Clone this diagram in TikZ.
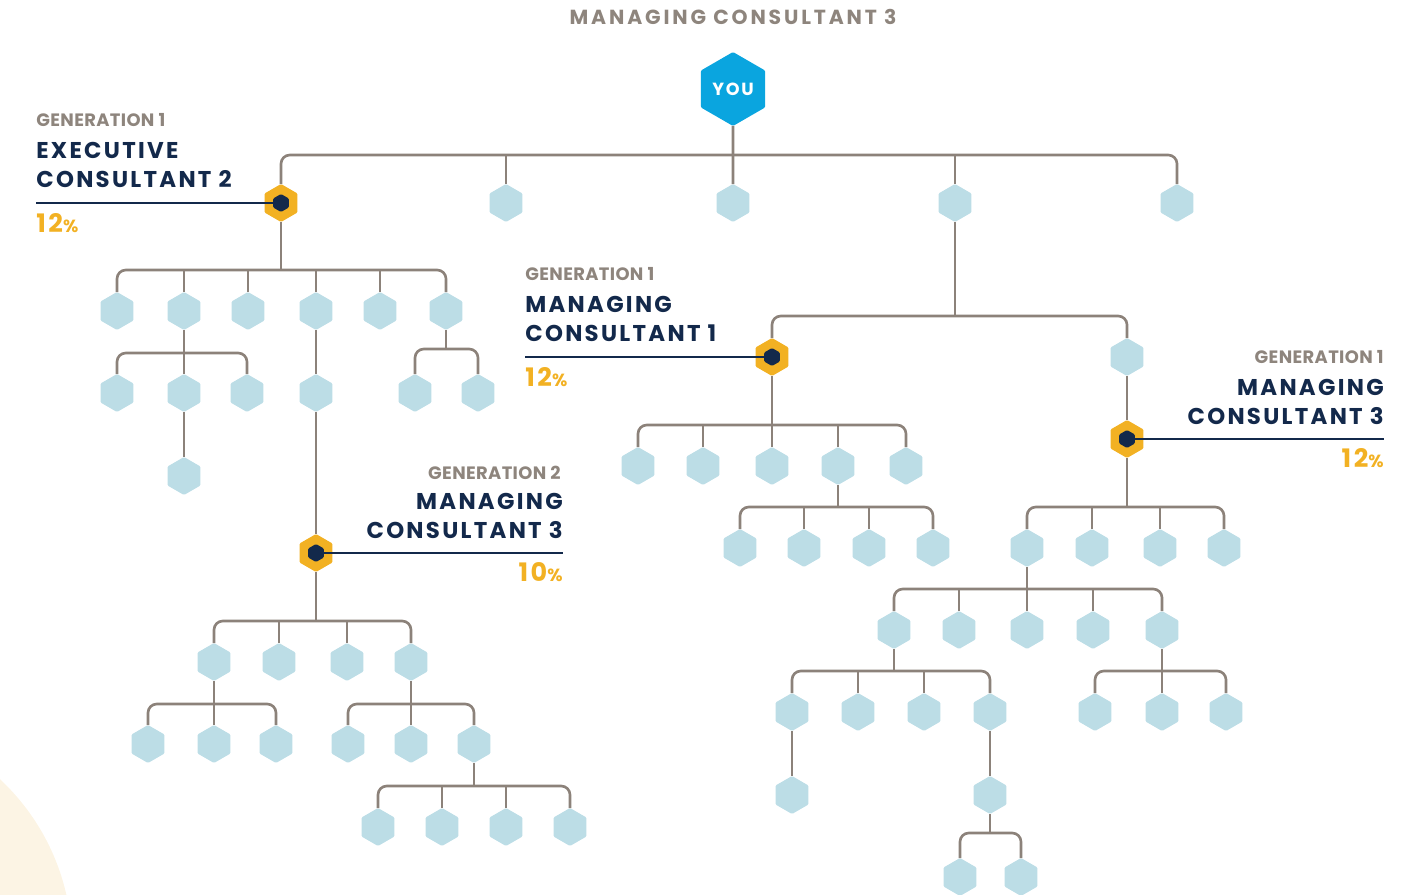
\documentclass[tikz,border=0pt]{standalone}
\usepackage{fontspec}
\setmainfont{Poppins}
\newfontfamily\genfont{Poppins}[LetterSpace=2]
\newfontfamily\rolefont{Poppins}[LetterSpace=10]
\newfontfamily\titlefont{Poppins}[LetterSpace=14]
\usetikzlibrary{shapes.geometric}

\definecolor{hexblue}{HTML}{BCDDE6}
\definecolor{youblue}{HTML}{0AA5DF}
\definecolor{gold}{HTML}{F2B123}
\definecolor{navy}{HTML}{13294B}
\definecolor{linegrey}{HTML}{8C827A}
\definecolor{textgrey}{HTML}{8E857D}
\definecolor{beige}{HTML}{FCF4E4}

\begin{document}
\begin{tikzpicture}[
  hex/.style={regular polygon,regular polygon sides=6,shape border rotate=30,
    minimum size=0.76cm,inner sep=0pt,outer sep=0pt,fill=hexblue,rounded corners=0.6pt},
  rank/.style={hex,fill=gold},
  core/.style={hex,fill=navy,minimum size=0.36cm},
  you/.style={hex,fill=youblue,minimum size=1.48cm,text=white,
    font=\rolefont\bfseries\fontsize{10}{11}\selectfont},
  link/.style={draw=linegrey,line width=1.5pt},
  bus/.style={link,rounded corners=5pt},
  tie/.style={draw=navy,line width=1.4pt},
  gen/.style={text=textgrey,inner sep=0pt,font=\genfont\bfseries\fontsize{10.2}{11}\selectfont},
  role/.style={text=navy,inner sep=0pt,font=\rolefont\bfseries\fontsize{13}{14}\selectfont},
  pct/.style={text=gold,inner sep=0pt,font=\rolefont\bfseries\fontsize{14.5}{15}\selectfont},
]
\begin{scope}[x=0.02cm,y=-0.02cm]
\useasboundingbox (0,0) rectangle (1409,895);

\begin{scope}
\clip (0,0) rectangle (1409,895);
\fill[beige] (-155,945) circle (4.54cm);
\end{scope}

\node[text=textgrey,inner sep=0pt,anchor=base,
  font=\titlefont\bfseries\fontsize{11.6}{13}\selectfont] (title) at (733,25)
  {MANAGING CONSULTANT 3};

% top level
\node[you] (you) at (733,89) {YOU};
\node[rank] (ec2) at (281,203) {};
\node[hex]  (t2)  at (506,203) {};
\node[hex]  (t3)  at (733,203) {};
\node[hex]  (t4)  at (955,203) {};
\node[hex]  (t5)  at (1177,203) {};
\coordinate (topbar) at (733,155);

% executive consultant 2
\node[hex] (a1) at (117,311) {};
\node[hex] (a2) at (184,311) {};
\node[hex] (a3) at (248,311) {};
\node[hex] (a4) at (316,311) {};
\node[hex] (a5) at (380,311) {};
\node[hex] (a6) at (446,311) {};
\coordinate (ec2bar) at (281,270);
\node[hex] (a21)  at (117,393) {};
\node[hex] (a22)  at (184,393) {};
\node[hex] (a23)  at (247,393) {};
\node[hex] (a221) at (184,476) {};
\coordinate (a2bar) at (184,353);
\node[hex] (a41) at (316,393) {};
\node[hex] (a61) at (415,393) {};
\node[hex] (a62) at (478,393) {};
\coordinate (a6bar) at (446,349);

% managing consultant 3, generation 2
\node[rank] (mc3b) at (316,553) {};
\node[hex] (b1) at (214,662) {};
\node[hex] (b2) at (279,662) {};
\node[hex] (b3) at (347,662) {};
\node[hex] (b4) at (411,662) {};
\coordinate (mc3bbar) at (316,621);
\node[hex] (b11) at (148,744) {};
\node[hex] (b12) at (214,744) {};
\node[hex] (b13) at (276,744) {};
\coordinate (b1bar) at (214,704);
\node[hex] (b41) at (348,744) {};
\node[hex] (b42) at (411,744) {};
\node[hex] (b43) at (474,744) {};
\coordinate (b4bar) at (411,704);
\node[hex] (b431) at (378,827) {};
\node[hex] (b432) at (442,827) {};
\node[hex] (b433) at (506,827) {};
\node[hex] (b434) at (570,827) {};
\coordinate (b43bar) at (474,786);

% right branch
\node[rank] (mc1)  at (772,357) {};
\node[hex]  (c2)   at (1127,357) {};
\node[rank] (mc3a) at (1127,439) {};
\coordinate (t4bar) at (955,316);

% managing consultant 1
\node[hex] (m1) at (638,466) {};
\node[hex] (m2) at (703,466) {};
\node[hex] (m3) at (772,466) {};
\node[hex] (m4) at (838,466) {};
\node[hex] (m5) at (906,466) {};
\coordinate (mc1bar) at (772,425);
\node[hex] (m41) at (740,548) {};
\node[hex] (m42) at (804,548) {};
\node[hex] (m43) at (869,548) {};
\node[hex] (m44) at (933,548) {};
\coordinate (m4bar) at (838,507);

% managing consultant 3, generation 1
\node[hex] (r1) at (1027,548) {};
\node[hex] (r2) at (1092,548) {};
\node[hex] (r3) at (1160,548) {};
\node[hex] (r4) at (1224,548) {};
\coordinate (mc3abar) at (1127,507);
\node[hex] (r11) at (894,630) {};
\node[hex] (r12) at (959,630) {};
\node[hex] (r13) at (1027,630) {};
\node[hex] (r14) at (1093,630) {};
\node[hex] (r15) at (1162,630) {};
\coordinate (r1bar) at (1027,589);
\node[hex] (r111) at (792,712) {};
\node[hex] (r112) at (858,712) {};
\node[hex] (r113) at (924,712) {};
\node[hex] (r114) at (990,712) {};
\coordinate (r11bar) at (894,671);
\node[hex] (r1111) at (792,795) {};
\node[hex] (r1141) at (990,795) {};
\node[hex] (r11411) at (960,877) {};
\node[hex] (r11412) at (1021,877) {};
\coordinate (r1141bar) at (990,833);
\node[hex] (r151) at (1095,712) {};
\node[hex] (r152) at (1162,712) {};
\node[hex] (r153) at (1226,712) {};
\coordinate (r15bar) at (1162,671);

% connectors
\draw[bus] (ec2) |- (topbar) -| (t5);
\draw[link] (you) -- (t3);
\foreach \n in {t2,t4} \draw[link] (\n) -- (\n |- topbar);

\draw[bus] (a1) |- (ec2bar) -| (a6);
\draw[link] (ec2) -- (ec2bar);
\foreach \n in {a2,a3,a4,a5} \draw[link] (\n) -- (\n |- ec2bar);
\draw[bus] (a21) |- (a2bar) -| (a23);
\draw[link] (a2) -- (a22);
\draw[link] (a22) -- (a221);
\draw[link] (a4) -- (a41);
\draw[link] (a41) -- (mc3b);
\draw[bus] (a61) |- (a6bar) -| (a62);
\draw[link] (a6) -- (a6bar);

\draw[bus] (b1) |- (mc3bbar) -| (b4);
\draw[link] (mc3b) -- (mc3bbar);
\foreach \n in {b2,b3} \draw[link] (\n) -- (\n |- mc3bbar);
\draw[bus] (b11) |- (b1bar) -| (b13);
\draw[link] (b1) -- (b12);
\draw[bus] (b41) |- (b4bar) -| (b43);
\draw[link] (b4) -- (b42);
\draw[bus] (b431) |- (b43bar) -| (b434);
\draw[link] (b43) -- (b43bar);
\foreach \n in {b432,b433} \draw[link] (\n) -- (\n |- b43bar);

\draw[bus] (mc1) |- (t4bar) -| (c2);
\draw[link] (t4) -- (t4bar);
\draw[link] (c2) -- (mc3a);

\draw[bus] (m1) |- (mc1bar) -| (m5);
\draw[link] (mc1) -- (m3);
\foreach \n in {m2,m4} \draw[link] (\n) -- (\n |- mc1bar);
\draw[bus] (m41) |- (m4bar) -| (m44);
\draw[link] (m4) -- (m4bar);
\foreach \n in {m42,m43} \draw[link] (\n) -- (\n |- m4bar);

\draw[bus] (r1) |- (mc3abar) -| (r4);
\draw[link] (mc3a) -- (mc3abar);
\foreach \n in {r2,r3} \draw[link] (\n) -- (\n |- mc3abar);
\draw[bus] (r11) |- (r1bar) -| (r15);
\draw[link] (r1) -- (r13);
\foreach \n in {r12,r14} \draw[link] (\n) -- (\n |- r1bar);
\draw[bus] (r111) |- (r11bar) -| (r114);
\draw[link] (r11) -- (r11bar);
\foreach \n in {r112,r113} \draw[link] (\n) -- (\n |- r11bar);
\draw[link] (r111) -- (r1111);
\draw[link] (r114) -- (r1141);
\draw[bus] (r11411) |- (r1141bar) -| (r11412);
\draw[link] (r1141) -- (r1141bar);
\draw[bus] (r151) |- (r15bar) -| (r153);
\draw[link] (r15) -- (r152);

% labels
\node[core] (ec2core)  at (ec2) {};
\node[core] (mc1core)  at (mc1) {};
\node[core] (mc3acore) at (mc3a) {};
\node[core] (mc3bcore) at (mc3b) {};

\coordinate (ec2tie) at (36,203);
\draw[tie] (ec2tie) -- (ec2core);
\node[gen,anchor=base west]  (ec2gen)  at (36,126.7) {GENERATION 1};
\node[role,anchor=base west] (ec2role) at (36,158.3) {EXECUTIVE};
\node[role,anchor=base west] (ec2rank) at (36,187.3) {CONSULTANT 2};
\node[pct,anchor=base west]  (ec2pct)  at (36,232.3)
  {12{\fontsize{10}{11}\selectfont\%}};

\coordinate (mc1tie) at (525,357);
\draw[tie] (mc1tie) -- (mc1core);
\node[gen,anchor=base west]  (mc1gen)  at (525,280.4) {GENERATION 1};
\node[role,anchor=base west] (mc1role) at (525,312) {MANAGING};
\node[role,anchor=base west] (mc1rank) at (525,341) {CONSULTANT 1};
\node[pct,anchor=base west]  (mc1pct)  at (525,386)
  {12{\fontsize{10}{11}\selectfont\%}};

\coordinate (mc3atie) at (1384,439);
\draw[tie] (mc3acore) -- (mc3atie);
\node[gen,anchor=base east]  (mc3agen)  at (1384,363.3) {GENERATION 1};
\node[role,anchor=base east] (mc3arole) at (1384,395.7) {MANAGING};
\node[role,anchor=base east] (mc3arank) at (1384,424.3) {CONSULTANT 3};
\node[pct,anchor=base east]  (mc3apct)  at (1384,467.3)
  {12{\fontsize{10}{11}\selectfont\%}};

\coordinate (mc3btie) at (563,553);
\draw[tie] (mc3bcore) -- (mc3btie);
\node[gen,anchor=base east]  (mc3bgen)  at (561,479.5) {GENERATION 2};
\node[role,anchor=base east] (mc3brole) at (563,509.5) {MANAGING};
\node[role,anchor=base east] (mc3brank) at (563,538.5) {CONSULTANT 3};
\node[pct,anchor=base east]  (mc3bpct)  at (563,581)
  {10{\fontsize{10}{11}\selectfont\%}};

\end{scope}
\end{tikzpicture}
\end{document}
